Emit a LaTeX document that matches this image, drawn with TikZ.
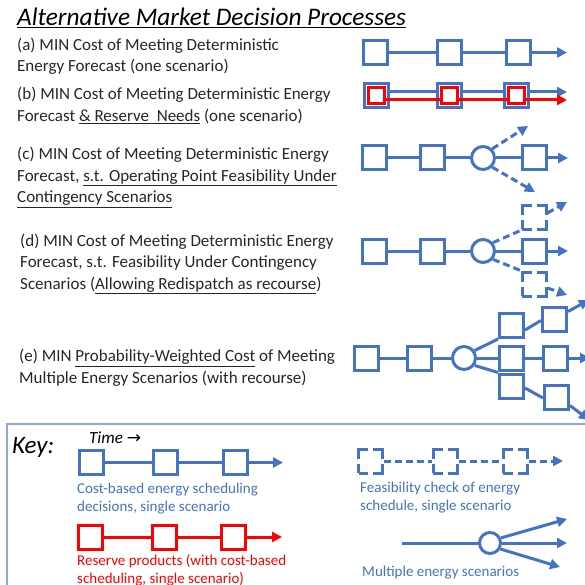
\documentclass[tikz,border=0pt]{standalone}
\usepackage{fontspec}
\setmainfont{Carlito}
\newfontfamily\symfont{DejaVu Sans}
\usetikzlibrary{arrows.meta}
\definecolor{oblue}{HTML}{4472C4}
\definecolor{ored}{HTML}{FF0000}
\definecolor{keyframe}{HTML}{8FAADC}
\definecolor{txt}{HTML}{262626}
\begin{document}
\begin{tikzpicture}[x=1pt,y=-1pt,
  sq/.style={draw=oblue, line width=3pt, fill=white, rectangle, minimum size=24pt, inner sep=0pt},
  rsq/.style={draw=ored, line width=3pt, fill=white, rectangle, minimum size=16pt, inner sep=0pt},
  redsq/.style={sq, draw=ored},
  dsq/.style={sq, dash pattern=on 19pt off 5pt, dash phase=9.5pt},
  circ/.style={draw=oblue, line width=3pt, fill=white, circle, minimum size=23pt, inner sep=0pt},
  link/.style={draw=oblue, line width=3pt},
  dlink/.style={link, dash pattern=on 7pt off 4pt},
  tip/.style={-{Triangle[length=10pt,width=10pt]}},
  arr/.style={link, tip},
  darr/.style={dlink, tip},
  rlink/.style={draw=ored, line width=3pt},
  rarr/.style={rlink, tip},
  body/.style={anchor=west, align=left, inner sep=0pt, text=txt, font=\fontsize{17}{21.5}\selectfont},
  keytxt/.style={anchor=west, align=left, inner sep=0pt, font=\fontsize{15}{18}\selectfont},
]
\useasboundingbox (0,0) rectangle (585,585);
\clip (0,0) rectangle (585,585);

% Title
\node[anchor=west, inner sep=0pt, text=black, font=\fontsize{25.3}{28}\selectfont\itshape] (title) at (17,18)
  {\underline{Alternative Market Decision Processes}};

% Texts
\node[body] (ta) at (17,56) {(a) MIN Cost of Meeting Deterministic\\Energy Forecast (one scenario)};
\node[body] (tb) at (17,105.5) {(b) MIN Cost of Meeting Deterministic Energy\\Forecast \underline{\& Reserve\ \ Needs} (one scenario)};
\node[body] (tc) at (17,177.5) {(c) MIN Cost of Meeting Deterministic Energy\\Forecast, \underline{s.t. Operating Point Feasibility Under}\\\underline{Contingency Scenarios}};
\node[body] (td) at (20,264) {(d) MIN Cost of Meeting Deterministic Energy\\Forecast, s.t. Feasibility Under Contingency\\Scenarios (\underline{Allowing Redispatch as recourse})};
\node[body] (te) at (19,367.5) {(e) MIN \underline{Probability-Weighted Cost} of Meeting\\Multiple Energy Scenarios (with recourse)};

% (a)
\node[sq] (a1) at (375.5,52.5) {};
\node[sq] (a2) at (449.5,52.5) {};
\node[sq] (a3) at (518.5,52.5) {};
\coordinate (aend) at (567,52.5);
\draw[link] (a1) -- (a2);
\draw[link] (a2) -- (a3);
\draw[arr] (a3) -- (aend);

% (b)
\node[sq] (b1) at (376,95.5) {};
\node[sq] (b2) at (449.5,95.5) {};
\node[sq] (b3) at (516,95.5) {};
\coordinate (bend) at (567,92);
\coordinate (brend) at (567,100);
\draw[link] ([yshift=3.5pt]b1.east) -- ([yshift=3.5pt]b2.west);
\draw[link] ([yshift=3.5pt]b2.east) -- ([yshift=3.5pt]b3.west);
\draw[arr] ([yshift=3.5pt]b3.east) -- (bend);
\node[rsq] (r1) at (376,95.5) {};
\node[rsq] (r2) at (449.5,95.5) {};
\node[rsq] (r3) at (516,95.5) {};
\draw[rlink] ([yshift=-4.5pt]r1.east) -- ([yshift=-4.5pt]r2.west);
\draw[rlink] ([yshift=-4.5pt]r2.east) -- ([yshift=-4.5pt]r3.west);
\draw[rarr] ([yshift=-4.5pt]r3.east) -- (brend);
\node[rsq] at (r1) {};
\node[rsq] at (r2) {};
\node[rsq] at (r3) {};

% (c)
\node[sq] (c1) at (374.5,158) {};
\node[sq] (c2) at (432,158) {};
\node[circ] (cc) at (483,158) {};
\node[sq] (c3) at (534,158) {};
\coordinate (cend) at (568,158);
\coordinate (cup) at (528,126);
\coordinate (cdn) at (535,192);
\draw[link] (c1) -- (c2);
\draw[link] (c2) -- (cc);
\draw[link] (cc) -- (c3);
\draw[arr] (c3) -- (cend);
\draw[darr] (cc.45) -- (cup);
\draw[darr] (cc.-45) -- (cdn);

% (d)
\node[sq] (d1) at (374.5,251) {};
\node[sq] (d2) at (432,251) {};
\node[circ] (dc) at (483,251) {};
\node[sq] (d3) at (534,251) {};
\node[dsq] (du) at (534,217) {};
\node[dsq] (dl) at (534,284) {};
\coordinate (dend) at (568,251);
\coordinate (duend) at (567,202);
\coordinate (dlend) at (567,295);
\draw[link] (d1) -- (d2);
\draw[link] (d2) -- (dc);
\draw[link] (dc) -- (d3);
\draw[arr] (d3) -- (dend);
\draw[dlink] (dc.40) -- (du.south west);
\draw[dlink] (dc.-40) -- (dl.north west);
\draw[darr] ([yshift=4pt]du.east) -- (duend);
\draw[darr] ([yshift=-4pt]dl.east) -- (dlend);

% (e)
\node[sq] (e1) at (366.5,358) {};
\node[sq] (e2) at (419.5,358) {};
\node[circ] (ec) at (464,358) {};
\node[sq] (em1) at (511.5,325.5) {};
\node[sq] (em2) at (511.5,358) {};
\node[sq] (em3) at (511.5,386) {};
\node[sq] (et1) at (554.5,319.5) {};
\node[sq] (et2) at (555.5,358) {};
\node[sq] (et3) at (556.5,397.5) {};
\coordinate (et1end) at (589,300);
\coordinate (et2end) at (590,358);
\coordinate (et3end) at (589,420);
\draw[link] (e1) -- (e2);
\draw[link] (e2) -- (ec);
\draw[link] (ec) -- (em2);
\draw[link] (ec.35) -- (em1.south west);
\draw[link] (ec.-35) -- (em3.north west);
\draw[link] ([yshift=-4.5pt]em1.east) -- ([yshift=-1pt]et1.west);
\draw[link] (em2) -- (et2);
\draw[link] ([yshift=-2pt]em3.east) -- ([yshift=-0.5pt]et3.west);
\draw[arr] ([yshift=8pt]et1.east) -- (et1end);
\draw[arr] (et2) -- (et2end);
\draw[arr] ([yshift=-8pt]et3.east) -- (et3end);

% Key box
\draw[keyframe, line width=1.2pt] (7,424) rectangle (600,600);
\node[anchor=west, inner sep=0pt, text=black, font=\fontsize{25}{28}\selectfont\itshape] (key) at (12,447) {Key:};
\node[anchor=west, inner sep=0pt, text=black, font=\fontsize{17}{20}\selectfont\itshape] (time) at (89,438) {Time {\upshape\symfont\fontsize{17}{20}\selectfont →}};

% Key blue row
\node[sq] (k1) at (91.5,462.5) {};
\node[sq] (k2) at (165,462.5) {};
\node[sq] (k3) at (235,462.5) {};
\coordinate (kend) at (283,462.5);
\draw[link] (k1) -- (k2);
\draw[link] (k2) -- (k3);
\draw[arr] (k3) -- (kend);
\node[keytxt, text=oblue] (kt1) at (77,499) {Cost-based energy scheduling\\decisions, single scenario};

% Key red row
\node[redsq] (kr1) at (90,537) {};
\node[redsq] (kr2) at (164,537) {};
\node[redsq] (kr3) at (233,537) {};
\coordinate (krend) at (282,537);
\draw[rlink] (kr1) -- (kr2);
\draw[rlink] (kr2) -- (kr3);
\draw[rarr] (kr3) -- (krend);
\node[keytxt, text=ored] (kt2) at (77,570) {Reserve products (with cost-based\\scheduling, single scenario)};

% Key dashed row
\node[dsq] (kd1) at (370.5,461) {};
\node[dsq] (kd2) at (445,461) {};
\node[dsq] (kd3) at (515,461) {};
\coordinate (kdend) at (563,461);
\draw[dlink] (kd1) -- (kd2);
\draw[dlink] (kd2) -- (kd3);
\draw[darr] (kd3) -- (kdend);
\node[keytxt, text=oblue] (kt3) at (360,497.5) {Feasibility check of energy\\schedule, single scenario};

% Key multiple scenarios
\coordinate (ms) at (402,543);
\node[circ, minimum size=21pt] (km) at (490,543) {};
\coordinate (km1) at (567,519);
\coordinate (km2) at (567,543);
\coordinate (km3) at (560,567);
\draw[link] (ms) -- (km);
\draw[arr] (km.25) -- (km1);
\draw[arr] (km.east) -- (km2);
\draw[arr] (km.-30) -- (km3);
\node[keytxt, text=oblue] (kt4) at (362,573) {Multiple energy scenarios};
\end{tikzpicture}
\end{document}
